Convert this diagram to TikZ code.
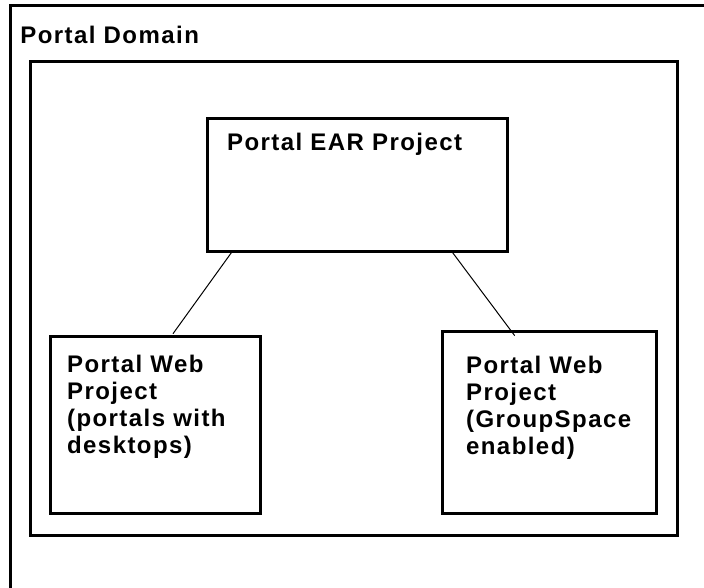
\documentclass[tikz,border=0pt]{standalone}
\usepackage{fontspec}
\setmainfont{Liberation Sans}[LetterSpace=6]
\usetikzlibrary{positioning, calc}

\begin{document}
\begin{tikzpicture}[
    x=0.5pt, y=-0.5pt,
    box/.style={rectangle, draw, line width=1.5pt, inner sep=0pt, outer sep=0pt, anchor=north west},
    title/.style={font=\fontsize{12}{13.5}\selectfont\bfseries, align=left, inner sep=0pt, anchor=north west},
    link/.style={line width=0.5pt}
]

\clip (0,0) rectangle (704,587);

% Outer frame, cut off at the page edge
\node[box, minimum width=348pt, minimum height=293pt] (frame) at (10,6) {};
\node[title, below right=10pt and 5pt of frame.north west] (frametitle) {Portal Domain};

% Domain box
\node[box, minimum width=323.9pt, minimum height=236.9pt] (domain) at (30,62) {};

% EAR project
\node[box, minimum width=150pt, minimum height=66.4pt] (ear) at (207,119) {};
\node[title, below right=7pt and 9.85pt of ear.north west] (eartext) {Portal EAR Project};

% Web projects
\node[box, minimum width=105pt, minimum height=88.5pt] (webA) at (50,336.7) {};
\node[title, below right=8.8pt and 8.35pt of webA.north west] (webAtext) {Portal Web\\Project\\(portals with\\desktops)};

\node[box, minimum width=106.8pt, minimum height=91pt] (webB) at (442.7,331.7) {};
\node[title, below right=12.2pt and 11.5pt of webB.north west] (webBtext) {Portal Web\\Project\\(GroupSpace\\enabled)};

% Links
\draw[link] ($(ear.south west)+(25,0)$) -- ($(webA.north west)+(123,-3)$);
\draw[link] ($(ear.south east)+(-55,0)$) -- ($(webB.north west)+(72,4)$);

\end{tikzpicture}
\end{document}
